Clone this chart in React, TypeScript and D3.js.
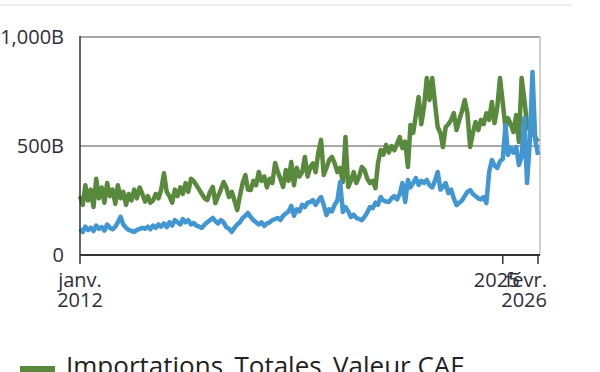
import React, { useRef, useEffect } from 'react';
import * as d3 from 'd3';

// monthly values, billions, Jan 2012 .. Feb 2026
const IMPORTS_CAF = [
  270, 230, 320, 250, 300, 220, 350, 260, 310, 240, 330, 270,
  300, 235, 320, 260, 290, 230, 280, 250, 300, 260, 310, 280,
  245, 270, 240, 250, 280, 260, 300, 375, 290, 270, 240, 300,
  270, 310, 280, 330, 290, 350, 340, 320, 300, 280, 260, 252,
  290, 312, 238, 270, 300, 335, 310, 266, 290, 250, 206, 270,
  330, 367, 300, 298, 340, 320, 381, 340, 360, 310, 350, 330,
  422, 380, 350, 312, 390, 340, 427, 320, 400, 360, 380, 450,
  360, 404, 420, 380, 470, 528, 367, 400, 436, 450, 420, 380,
  400, 335, 541, 312, 340, 380, 330, 360, 404, 390, 350, 330,
  340, 307, 420, 482, 460, 505, 470, 500, 480, 510, 541, 490,
  520, 404, 596, 560, 642, 725, 600, 680, 812, 711, 812, 700,
  587, 560, 495, 587, 600, 620, 651, 573, 620, 660, 711, 650,
  495, 560, 610, 573, 620, 600, 650, 620, 702, 605, 680, 812,
  700, 580, 628, 600, 564, 642, 518, 812, 711, 600, 573, 560,
  540, 520,
];

const IMPORTS_OTHER = [
  120, 105, 130, 115, 125, 110, 135, 120, 128, 112, 140, 125,
  118, 130, 150, 175, 140, 125, 115, 110, 106, 115, 120, 125,
  120, 130, 118, 135, 125, 140, 130, 145, 128, 150, 135, 160,
  150, 140, 165, 150, 160, 140, 147, 135, 130, 124, 140, 150,
  160, 170, 155, 145, 160, 150, 128, 120, 106, 125, 140, 150,
  170, 180, 193, 175, 160, 150, 140, 150, 133, 145, 150, 160,
  165, 170, 160, 180, 190, 200, 225, 180, 210, 200, 230, 220,
  240, 243, 252, 230, 250, 266, 230, 183, 210, 200, 230, 250,
  335, 197, 220, 200, 174, 185, 170, 165, 160, 175, 195, 220,
  215, 240, 230, 266, 250, 245, 243, 260, 270, 255, 280, 330,
  243, 344, 310, 330, 353, 321, 340, 330, 344, 320, 310, 340,
  381, 300, 312, 330, 284, 300, 260, 229, 240, 250, 270, 290,
  298, 280, 270, 260, 255, 266, 238, 381, 436, 410, 399, 430,
  440, 596, 459, 491, 470, 495, 413, 450, 628, 330, 520, 840,
  528, 459,
];

const Y_TICKS = [0, 500, 1000];
const Y_LABELS = ['0', '500B', '1,000B'];
const X_TICKS = [new Date(2012, 0, 1), new Date(2025, 0, 1), new Date(2026, 1, 1)];
const X_LABELS = [['janv.', '2012'], ['2025'], ['févr.', '2026']];
const LEGEND = 'Importations_Totales_Valeur CAF';

const GREEN = '#58893c';
const BLUE = '#4296d2';
const TEXT = '#2e2e3a';

const W = 600;
const H = 372;

export default function App() {
  const svgRef = useRef<SVGSVGElement>(null);

  useEffect(() => {
    const svg = d3.select(svgRef.current);
    svg.selectAll('*').remove();

    const left = 80, right = 538, top = 37, bottom = 255;
    const dates = IMPORTS_CAF.map((_, i) => new Date(2012, i, 1));

    const x = d3.scaleTime()
      .domain([dates[0], dates[dates.length - 1]])
      .range([left, right]);
    const y = d3.scaleLinear().domain([0, 1000]).range([bottom, top]);

    // faint rule at the top of the page
    svg.append('line')
      .attr('x1', 0).attr('x2', 572).attr('y1', 5).attr('y2', 5)
      .attr('stroke', '#eeeeee').attr('stroke-width', 2);

    // frame
    svg.append('line')
      .attr('x1', left).attr('x2', right + 2).attr('y1', y(1000)).attr('y2', y(1000))
      .attr('stroke', '#8a8a8a').attr('stroke-width', 1.5);
    svg.append('line')
      .attr('x1', right + 2).attr('x2', right + 2).attr('y1', y(1000)).attr('y2', bottom)
      .attr('stroke', '#d0d0d0').attr('stroke-width', 2);

    // gridline at 500
    svg.append('line')
      .attr('x1', left).attr('x2', right + 2).attr('y1', y(500)).attr('y2', y(500))
      .attr('stroke', '#8a8a8a').attr('stroke-width', 1.5);

    const line = d3.line<number>()
      .x((_, i) => x(dates[i]))
      .y(d => y(d))
      .curve(d3.curveLinear);

    svg.append('path')
      .attr('d', line(IMPORTS_CAF))
      .attr('fill', 'none')
      .attr('stroke', GREEN)
      .attr('stroke-width', 4.5)
      .attr('stroke-linejoin', 'round');

    svg.append('path')
      .attr('d', line(IMPORTS_OTHER))
      .attr('fill', 'none')
      .attr('stroke', BLUE)
      .attr('stroke-width', 4.5)
      .attr('stroke-linejoin', 'round');

    // axes lines
    svg.append('line')
      .attr('x1', left).attr('x2', left).attr('y1', y(1000) - 1).attr('y2', bottom)
      .attr('stroke', '#333').attr('stroke-width', 1.5);
    svg.append('line')
      .attr('x1', left).attr('x2', right + 2).attr('y1', bottom).attr('y2', bottom)
      .attr('stroke', '#333').attr('stroke-width', 2);

    const font = '"Open Sans", "Noto Sans", sans-serif';

    Y_TICKS.forEach((t, i) => {
      svg.append('text')
        .attr('x', 64)
        .attr('y', y(t))
        .attr('dy', '0.35em')
        .attr('text-anchor', 'end')
        .attr('font-family', font)
        .attr('font-size', 20)
        .attr('fill', TEXT)
        .text(Y_LABELS[i]);
    });

    X_TICKS.forEach((d, i) => {
      const xp = x(d);
      svg.append('line')
        .attr('x1', xp).attr('x2', xp).attr('y1', bottom).attr('y2', bottom + 9)
        .attr('stroke', '#333').attr('stroke-width', 1.5);
      const lines = X_LABELS[i];
      const anchor = i === X_TICKS.length - 1 ? 'end' : 'middle';
      const tx = i === 0 ? xp : i === X_TICKS.length - 1 ? xp + 9 : xp - 6;
      lines.forEach((s, j) => {
        svg.append('text')
          .attr('x', tx)
          .attr('y', 287 + j * 20)
          .attr('text-anchor', anchor)
          .attr('font-family', font)
          .attr('font-size', 20)
          .attr('fill', TEXT)
          .text(s);
      });
    });

    // legend
    svg.append('rect')
      .attr('x', 20).attr('y', 366).attr('width', 35).attr('height', 6)
      .attr('fill', GREEN);
    svg.append('text')
      .attr('x', 66)
      .attr('y', 375)
      .attr('font-family', font)
      .attr('font-size', 26)
      .attr('fill', '#222')
      .text(LEGEND);
  }, []);

  return (
    <div style={{ position: 'absolute', left: 0, top: 0, width: W, height: H, overflow: 'hidden', background: '#fff' }}>
      <svg ref={svgRef} width={W} height={H} />
    </div>
  );
}
